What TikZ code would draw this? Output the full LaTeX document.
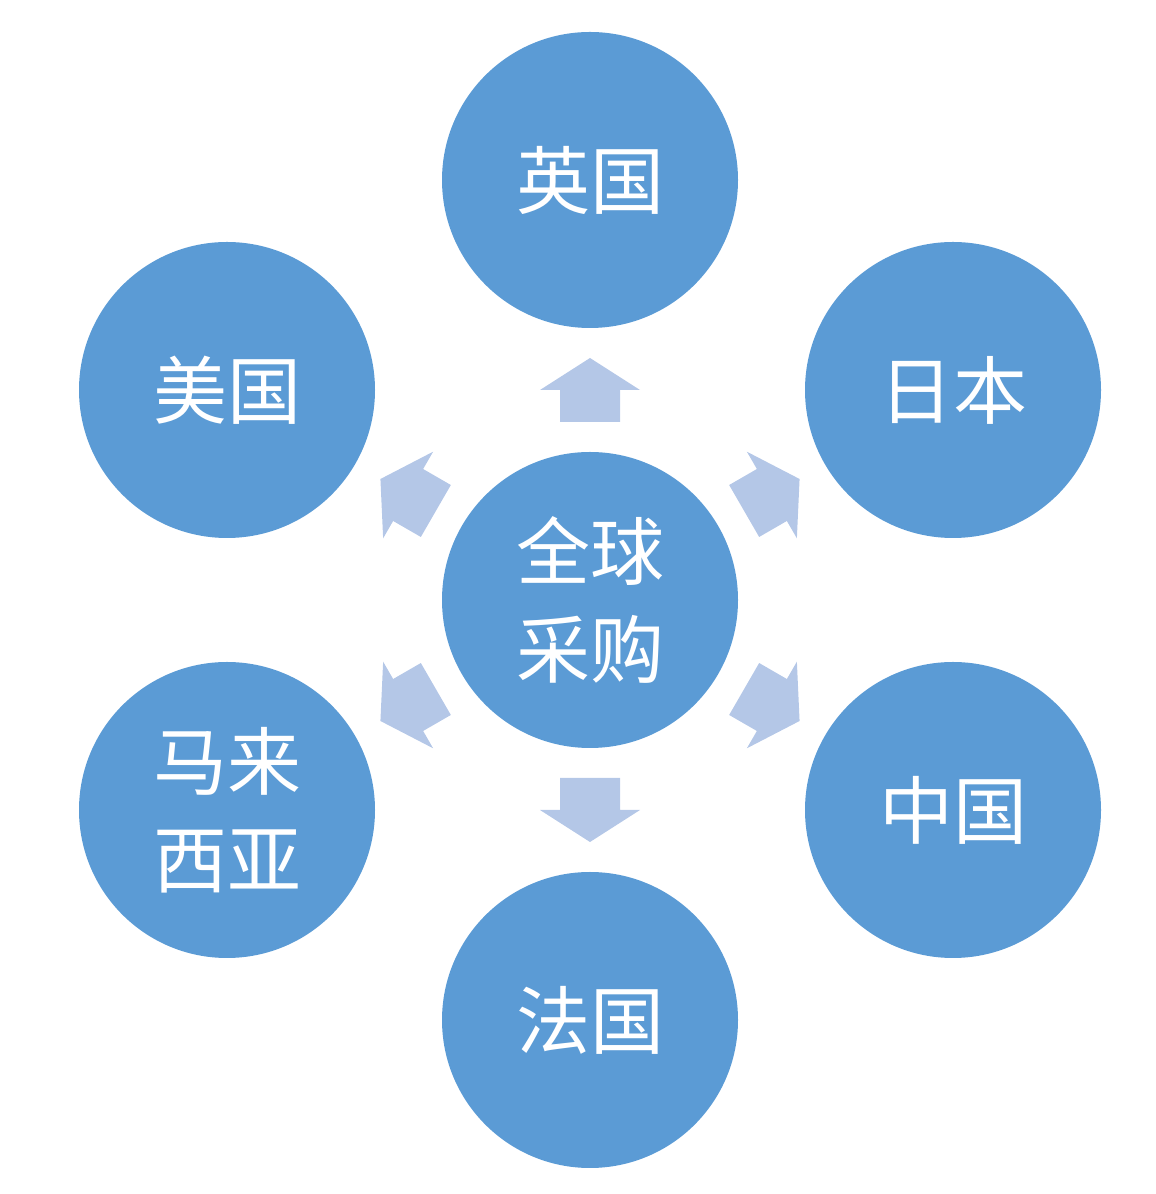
\documentclass[tikz,border=0pt]{standalone}
\usepackage{fontspec}
\newfontfamily\cjk{Noto Sans CJK SC}
\definecolor{circ}{HTML}{5B9BD5}
\definecolor{arr}{HTML}{B4C7E7}
\begin{document}
\begin{tikzpicture}[x=1pt,y=1pt,
  country/.style={circle,fill=circ,minimum size=296pt,inner sep=0pt,text=white,font=\cjk\fontsize{74}{98}\selectfont,align=center}]
\useasboundingbox (0,0) rectangle (1156,1194);
\node[country] (c) at (590,594) {全球\\采购};
\node[country] (t) at (590,1014) {英国};
\node[country] (b) at (590,174) {法国};
\node[country] (ul) at (227,804) {美国};
\node[country] (ur) at (953,804) {日本};
\node[country] (ll) at (227,384) {马来\\西亚};
\node[country] (lr) at (953,384) {中国};
\foreach \a in {90,30,-30,-90,150,210}{
  \begin{scope}[shift={(c.center)},rotate=\a]
    \fill[arr] (178,-30) -- (210,-30) -- (210,-50) -- (242,0) -- (210,50) -- (210,30) -- (178,30) -- cycle;
  \end{scope}
}
\end{tikzpicture}
\end{document}
